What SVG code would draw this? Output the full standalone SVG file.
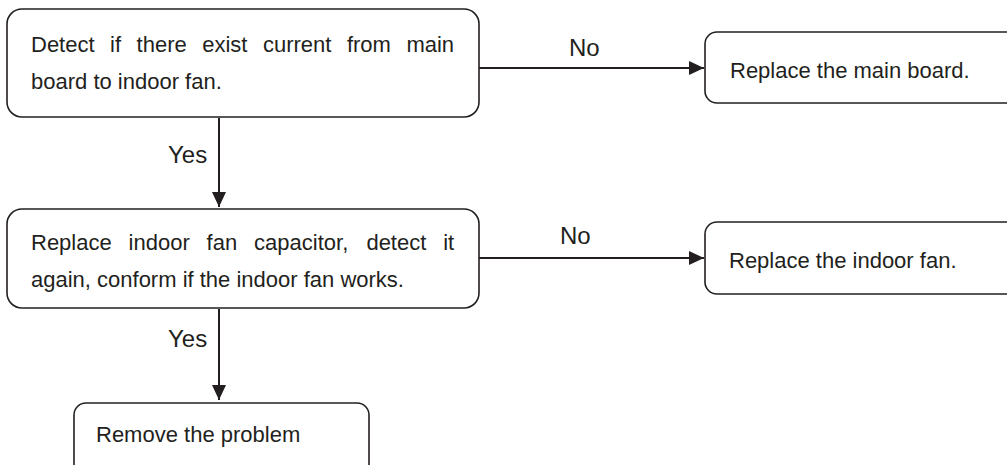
<svg xmlns="http://www.w3.org/2000/svg" width="1007" height="465" viewBox="0 0 1007 465">
<style>
.box{fill:#fff;stroke:#231f20;stroke-width:1.6}
.t{font-family:"Liberation Sans",Arial,sans-serif;font-size:22px;fill:#231f20}
.lbl{font-family:"Liberation Sans",Arial,sans-serif;font-size:24px;fill:#231f20}
.c{stroke:#231f20;stroke-width:2;fill:none}
</style>
<defs>
<marker id="ah" markerWidth="16" markerHeight="14" refX="15" refY="7" orient="auto" markerUnits="userSpaceOnUse">
<path d="M0,0 L15,7 L0,14 Z" fill="#231f20"/>
</marker>
</defs>
<rect width="1007" height="465" fill="#fff"/>
<g id="connectors">
<line class="c" x1="479" y1="68" x2="704" y2="68" marker-end="url(#ah)"/>
<line class="c" x1="219" y1="118" x2="219" y2="207" marker-end="url(#ah)"/>
<line class="c" x1="479" y1="258" x2="704" y2="258" marker-end="url(#ah)"/>
<line class="c" x1="219" y1="309" x2="219" y2="400" marker-end="url(#ah)"/>
<text class="lbl" x="569" y="56">No</text>
<text class="lbl" x="168" y="163">Yes</text>
<text class="lbl" x="560" y="244">No</text>
<text class="lbl" x="168" y="347">Yes</text>
</g>
<g id="n1">
<rect class="box" x="7" y="9" width="472" height="108" rx="15"/>
<text class="t" y="52"><tspan x="31">Detect</tspan><tspan x="110.1">if</tspan><tspan x="136.6">there</tspan><tspan x="202.2">exist</tspan><tspan x="262.9">current</tspan><tspan x="346.9">from</tspan><tspan x="406.4">main</tspan></text>
<text class="t" x="31" y="89">board to indoor fan.</text>
</g>
<g id="n2">
<rect class="box" x="705" y="32" width="320" height="71" rx="12"/>
<text class="t" x="730" y="78">Replace the main board.</text>
</g>
<g id="n3">
<rect class="box" x="7" y="209" width="472" height="99" rx="15"/>
<text class="t" y="250"><tspan x="31">Replace</tspan><tspan x="128.6">indoor</tspan><tspan x="206.6">fan</tspan><tspan x="254.1">capacitor,</tspan><tspan x="366.4">detect</tspan><tspan x="443.2">it</tspan></text>
<text class="t" x="31" y="287">again, conform if the indoor fan works.</text>
</g>
<g id="n4">
<rect class="box" x="705" y="222" width="320" height="72" rx="12"/>
<text class="t" x="729" y="268">Replace the indoor fan.</text>
</g>
<g id="n5">
<rect class="box" x="74" y="403" width="295" height="80" rx="12"/>
<text class="t" x="96" y="442">Remove the problem</text>
</g>
</svg>
